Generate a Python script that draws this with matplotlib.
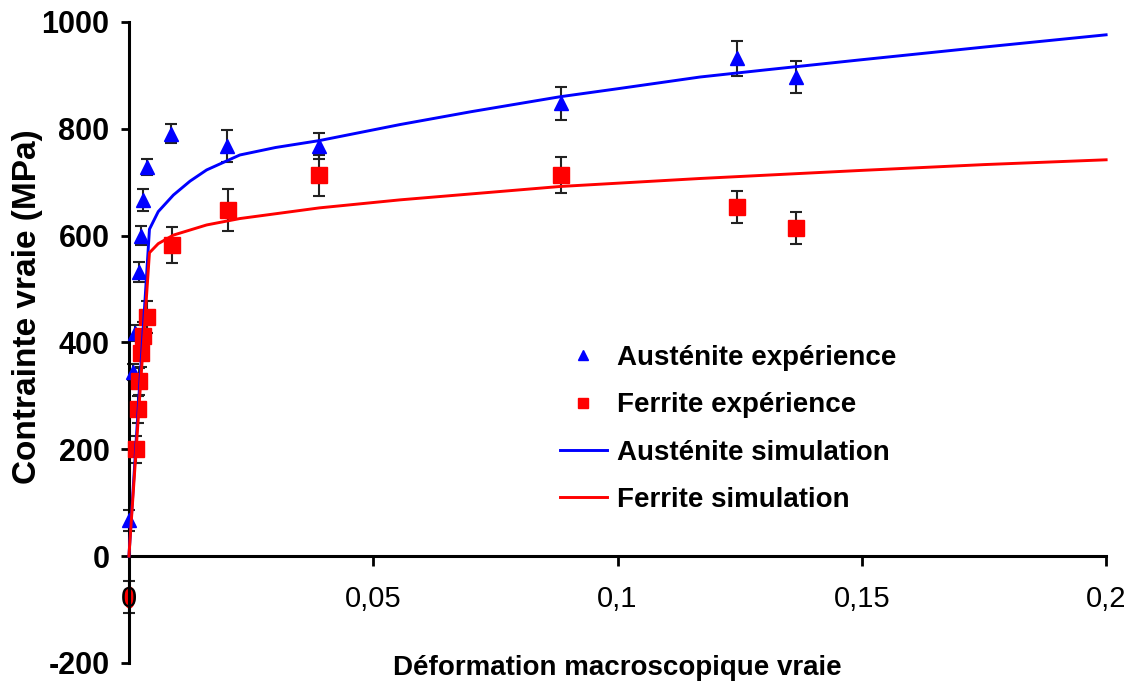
import numpy as np
import matplotlib
matplotlib.use('Agg')
from matplotlib import pyplot as plt
from matplotlib.path import Path
from matplotlib.transforms import Affine2D

plt.rcParams['font.family'] = ['Liberation Sans', 'DejaVu Sans']
plt.rcParams['axes.unicode_minus'] = False

# experimental points (strain, stress MPa, error bar)
aus_x = [0.0, 0.0008, 0.0013, 0.0020, 0.0025, 0.0029, 0.0037, 0.0087, 0.0201, 0.039, 0.0884, 0.1245, 0.1365]
aus_y = [67, 345, 418, 532, 600, 667, 728, 791, 768, 768, 848, 932, 897]
aus_err = [20, 15, 15, 18, 18, 20, 15, 18, 30, 24, 31, 33, 30]

fer_x = [0.0014, 0.0018, 0.0020, 0.0025, 0.0029, 0.0036, 0.0089, 0.0203, 0.039, 0.0884, 0.1245, 0.1365]
fer_y = [200, 275, 327, 380, 413, 447, 582, 648, 713, 713, 654, 614]
fer_err = [25, 25, 25, 25, 25, 30, 34, 40, 38, 34, 30, 30]

# odd point sitting under the "0" label
zero_x = [0.0]
zero_y = [-77]
zero_err = [30]

# simulation curves
sim_aus_x = [0, 0.0042, 0.006, 0.0091, 0.0125, 0.0159, 0.0227, 0.03, 0.039, 0.0555, 0.07, 0.0882, 0.1, 0.1169, 0.13, 0.1496, 0.175, 0.2]
sim_aus_y = [0, 612, 645, 676, 702, 723, 751, 765, 778, 808, 832, 860, 875, 897, 910, 929, 953, 976]
sim_fer_x = [0, 0.0042, 0.006, 0.0091, 0.0159, 0.0227, 0.039, 0.0555, 0.0882, 0.1169, 0.1496, 0.175, 0.2]
sim_fer_y = [0, 568, 585, 601, 620, 632, 652, 667, 692, 707, 722, 733, 742]

fig = plt.figure(figsize=(11.31, 6.87), dpi=100)
ax = fig.add_axes([0.114, 0.035, 0.864, 0.933])

eb_style = dict(fmt='none', ecolor='#222222', elinewidth=1.5, capsize=4.5, capthick=1.5)
for xs, ys, es, z in [(aus_x, aus_y, aus_err, 2), (fer_x, fer_y, fer_err, 2), (zero_x, zero_y, zero_err, 1)]:
    eb = ax.errorbar(xs, ys, yerr=es, zorder=z, **eb_style)
    for part in eb.lines[1] + eb.lines[2]:
        part.set_clip_on(False)

ellipse = Path.unit_circle().transformed(Affine2D().scale(0.5, 1.0))
ax.plot(zero_x, zero_y, linestyle='none', marker=ellipse, markersize=15, color='#ff0000', mec='#ff0000',
        zorder=1, clip_on=False)

ax.plot(aus_x, aus_y, linestyle='none', marker='^', markersize=10.5, color='#0000ff', label='Austénite expérience',
        zorder=3, clip_on=False)
ax.plot(fer_x, fer_y, linestyle='none', marker='s', markersize=11, color='#ff0000', label='Ferrite expérience',
        zorder=3, clip_on=False)
ax.plot(sim_aus_x, sim_aus_y, color='#0000ff', lw=2.1, label='Austénite simulation', zorder=4, clip_on=False)
ax.plot(sim_fer_x, sim_fer_y, color='#ff0000', lw=2.1, label='Ferrite simulation', zorder=4, clip_on=False)

ax.set_xlim(0, 0.2)
ax.set_ylim(-200, 1000)
ax.spines['top'].set_visible(False)
ax.spines['right'].set_visible(False)
ax.spines['bottom'].set_position(('data', 0))
for s in ['left', 'bottom']:
    ax.spines[s].set_linewidth(2.2)

ax.set_yticks(np.arange(-200, 1001, 200))
ax.tick_params(axis='y', direction='out', length=6, width=2, pad=8, labelsize=22)
for lab in ax.get_yticklabels():
    lab.set_fontweight('bold')

xt = [0, 0.05, 0.1, 0.15, 0.2]
ax.set_xticks(xt)
ax.set_xticklabels(['0', '0,05', '0,1', '0,15', '0,2'])
ax.tick_params(axis='x', direction='out', length=7, width=2, pad=14, labelsize=21)

fig.text(0.546, 0.027, 'Déformation macroscopique vraie', ha='center', va='center', fontsize=20, fontweight='bold')
fig.text(0.024, 0.553, 'Contrainte vraie (MPa)', ha='center', va='center', rotation=90, fontsize=24, fontweight='bold')

ax.legend(loc='upper left', bbox_to_anchor=(0.495, 0.498), bbox_transform=fig.transFigure, frameon=False,
          prop={'size': 20, 'weight': 'bold'}, handlelength=1.7, handletextpad=0.36, labelspacing=0.77,
          markerscale=0.68, borderpad=0, borderaxespad=0)

fig.savefig('out.png', dpi=100)
